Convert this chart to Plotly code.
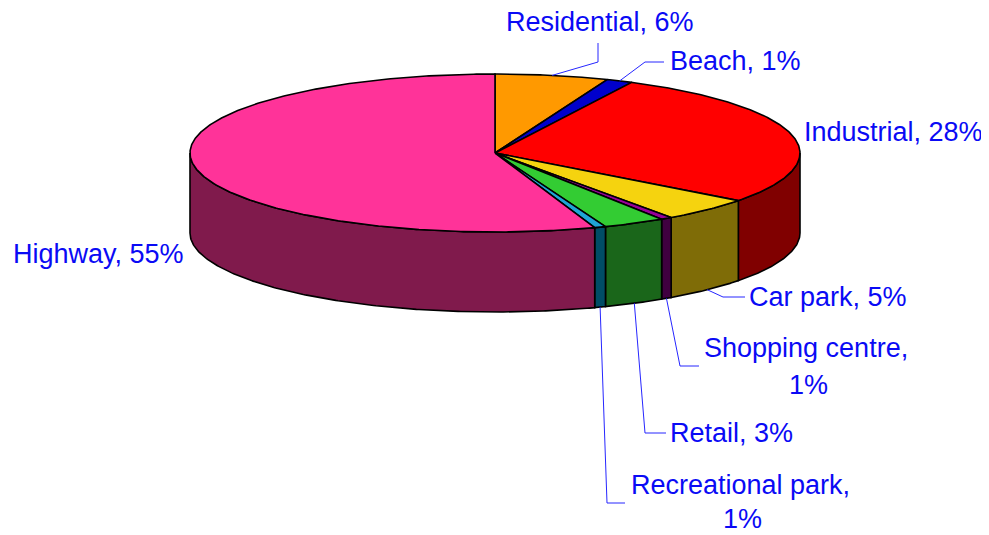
import math
import plotly.graph_objects as go

# ---- data ----
categories = ["Residential", "Beach", "Industrial", "Car park", "Shopping centre",
              "Retail", "Recreational park", "Highway"]
values = [6.0, 1.4, 27.9, 4.9, 0.6, 3.3, 0.6, 55.3]
top_colors = ["#FF9900", "#0000CC", "#FF0000", "#F5D30F", "#990099",
              "#33CC33", "#1FA5D5", "#FF3399"]
side_colors = ["#804C00", "#000066", "#800000", "#7F6C07", "#400040",
               "#1A661A", "#004D66", "#801A4C"]

# ---- layout geometry (page pixels) ----
W, H = 989, 535
BODY = 8  # default page margin around the plot
cx, cy, rx, ry, depth = 495, 153, 305, 79, 80
STEP = 0.5

# label layout: anchor point, horizontal anchor, leader elbow/end points
label_pos = {
    "Residential": [(600, 22, "center")],
    "Beach": [(735, 61, "center")],
    "Industrial": [(984, 132, "right")],
    "Car park": [(828, 297, "center")],
    "Shopping centre": [(806, 348, "center"), (808, 385, "center")],
    "Retail": [(731, 433, "center")],
    "Recreational park": [(740, 485, "center"), (742, 519, "center")],
    "Highway": [(98, 254, "center")],
}
leaders = {
    "Residential": [(598, 62), (598, 43)],
    "Beach": [(645, 62), (664, 62)],
    "Car park": [(723, 297), (745, 297)],
    "Shopping centre": [(680, 366), (699, 366)],
    "Retail": [(645, 433), (666, 433)],
    "Recreational park": [(607, 503), (625, 503)],
}


def pt(deg, dy=0.0):
    t = math.radians(deg)
    return cx + rx * math.sin(t), cy - ry * math.cos(t) + dy


def arc(a, b, dy=0.0):
    n = max(2, int(abs(b - a) / STEP) + 1)
    return [pt(a + (b - a) * i / (n - 1), dy) for i in range(n)]


total = sum(values)
bounds = []
acc = 0.0
for v in values:
    a = acc / total * 360
    acc += v
    b = acc / total * 360
    bounds.append((a, b))

fig = go.Figure()

# side walls (front half only)
for (a, b), col in zip(bounds, side_colors):
    lo, hi = max(a, 90), min(b, 270)
    if lo < hi:
        pts = arc(lo, hi) + arc(hi, lo, depth)
        pts.append(pts[0])
        fig.add_trace(go.Scatter(
            x=[p[0] for p in pts], y=[p[1] for p in pts], mode="lines",
            fill="toself", fillcolor=col, line=dict(color="black", width=1.6),
            hoverinfo="skip", showlegend=False))

# top faces
for (a, b), col in zip(bounds, top_colors):
    pts = [(cx, cy)] + arc(a, b) + [(cx, cy)]
    fig.add_trace(go.Scatter(
        x=[p[0] for p in pts], y=[p[1] for p in pts], mode="lines",
        fill="toself", fillcolor=col, line=dict(color="black", width=1.6),
        hoverinfo="skip", showlegend=False))

# leader lines
for (a, b), name in zip(bounds, categories):
    if name not in leaders:
        continue
    mid = (a + b) / 2
    front = 90 < mid < 270
    sx, sy = pt(mid, depth if front else 0)
    pts = [(sx, sy)] + leaders[name]
    fig.add_trace(go.Scatter(
        x=[p[0] for p in pts], y=[p[1] for p in pts], mode="lines",
        line=dict(color="#2626FF", width=1), hoverinfo="skip", showlegend=False))

# labels
annotations = []
for name, v in zip(categories, values):
    pct = round(v / total * 100)
    lines = [f"{name}, {pct}%"] if len(label_pos[name]) == 1 else [f"{name},", f"{pct}%"]
    for txt, (x, y, xa) in zip(lines, label_pos[name]):
        annotations.append(dict(
            x=x, y=y, xref="x", yref="y", text=txt, showarrow=False,
            xanchor=xa, yanchor="middle", borderpad=0,
            font=dict(family="Liberation Sans, Arial, sans-serif", size=27, color="#0A0AF5")))

fig.update_layout(
    width=W - BODY, height=H - BODY, margin=dict(l=0, r=0, t=0, b=0, pad=0),
    paper_bgcolor="white", plot_bgcolor="white",
    xaxis=dict(range=[BODY, W], visible=False, fixedrange=True),
    yaxis=dict(range=[H, BODY], visible=False, fixedrange=True),
    annotations=annotations,
)

fig.write_html("out.html")
